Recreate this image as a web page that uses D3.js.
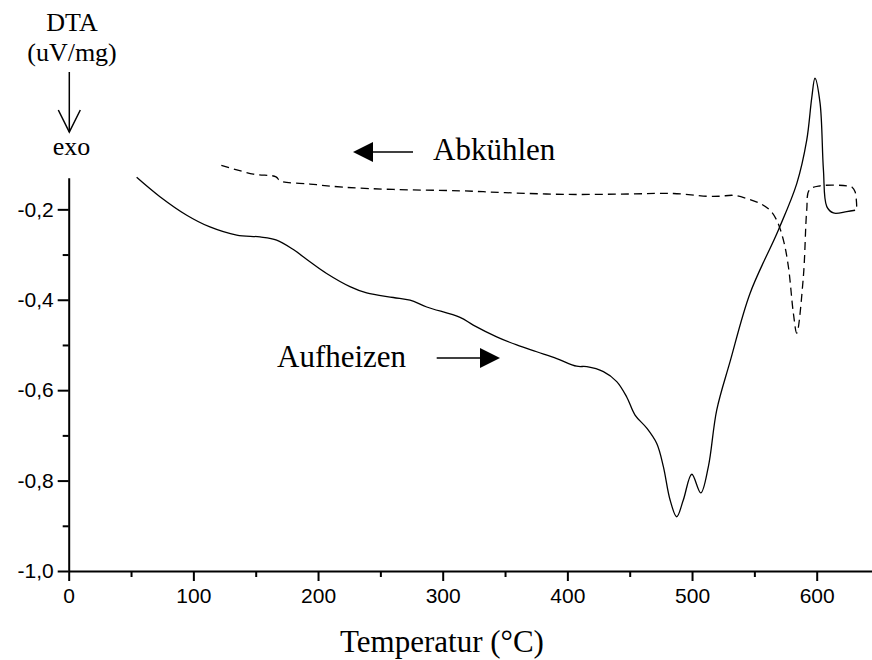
<!DOCTYPE html>
<html>
<head>
<meta charset="utf-8">
<script src="https://cdn.jsdelivr.net/npm/d3@7/dist/d3.min.js"></script>
<style>
  html, body { margin: 0; padding: 0; background: #fff; }
  svg { display: block; }
  .tick text { font-family: "Liberation Sans", Arial, sans-serif; font-size: 21px; fill: #000; }
  .serif { font-family: "Liberation Serif", "Times New Roman", serif; fill: #000; }
</style>
</head>
<body>
<svg id="chart" width="872" height="660"></svg>
<script>
// Heating run (Aufheizen): temperature in °C, DTA signal in uV/mg
const heatT = [54.5, 73.2, 94.7, 113.3, 134.8, 153.4, 166.8, 180.2, 193.5, 206.9, 225.6, 239.0,
  260.4, 273.8, 287.2, 313.9, 324.5, 343.3, 359.4, 375.4, 391.5, 407.5, 415.6, 428.9, 439.6,
  447.6, 454.3, 463.7, 471.7, 477.0, 482.4, 487.7, 493.0, 499.8, 507.0, 513.1, 519.8, 530.5,
  546.5, 569.2, 584.0, 592.0, 596.0, 598.6, 602.7, 605.4, 608.1, 613.4, 624.1, 630.8];
const heatV = [-0.129, -0.172, -0.213, -0.239, -0.257, -0.261, -0.268, -0.289, -0.316, -0.342, -0.371, -0.385,
  -0.395, -0.401, -0.416, -0.439, -0.456, -0.482, -0.500, -0.515, -0.530, -0.547, -0.548, -0.559, -0.581,
  -0.615, -0.655, -0.684, -0.718, -0.769, -0.843, -0.880, -0.843, -0.786, -0.827, -0.769, -0.644, -0.537,
  -0.386, -0.246, -0.143, -0.047, 0.046, 0.090, 0.035, -0.113, -0.194, -0.208, -0.205, -0.202];

// Cooling run (Abkühlen), listed in the order it was recorded (high to low temperature)
const coolT = [632.1, 630.8, 628.4, 624.1, 602.7, 594.1, 592.0, 589.3, 584.0, 581.3, 577.3, 573.3,
  567.9, 562.6, 554.6, 543.9, 533.2, 522.5, 511.8, 485.0, 450.0, 400.0, 350.0, 313.9, 260.4,
  220.3, 193.5, 169.5, 166.3, 148.1, 121.4];
const coolV = [-0.194, -0.161, -0.151, -0.148, -0.148, -0.157, -0.202, -0.349, -0.474, -0.430, -0.327, -0.268,
  -0.224, -0.202, -0.187, -0.176, -0.169, -0.171, -0.171, -0.165, -0.166, -0.167, -0.163, -0.159, -0.156,
  -0.151, -0.144, -0.137, -0.128, -0.122, -0.102];

// Axis ticks
const xMajor = [0, 100, 200, 300, 400, 500, 600];
const xMinor = [50, 150, 250, 350, 450, 550, 650];
const yMajor = [-1.0, -0.8, -0.6, -0.4, -0.2];
const yMinor = [-0.9, -0.7, -0.5, -0.3];

const svg = d3.select("#chart");

const x = d3.scaleLinear().domain([0, 650]).range([68.7, 68.7 + 650 * 1.24667]);
const y = d3.scaleLinear().domain([-1.0, -0.13]).range([571, 177.7]);

const fmt = d => d.toFixed(1).replace(".", ",");

// X axis
svg.append("g").attr("transform", `translate(0,${y(-1.0)})`)
  .call(d3.axisBottom(x).tickValues(xMajor).tickSize(10).tickSizeOuter(0).tickPadding(7).tickFormat(d3.format("d")));
svg.append("g").attr("transform", `translate(0,${y(-1.0)})`)
  .call(d3.axisBottom(x).tickValues(xMinor).tickSize(6).tickSizeOuter(0).tickFormat(""))
  .select(".domain").remove();

// Y axis
svg.append("g").attr("transform", `translate(${x(0)},0)`)
  .call(d3.axisLeft(y).tickValues(yMajor).tickSize(11).tickSizeOuter(0).tickPadding(4).tickFormat(fmt));
svg.append("g").attr("transform", `translate(${x(0)},0)`)
  .call(d3.axisLeft(y).tickValues(yMinor).tickSize(6).tickSizeOuter(0).tickFormat(""))
  .select(".domain").remove();

svg.selectAll(".domain").attr("stroke", "#000").attr("stroke-width", 2);
svg.selectAll(".tick line").attr("stroke", "#000").attr("stroke-width", 2);

// Curves
const line = d3.line()
  .x(d => x(d[0]))
  .y(d => y(d[1]))
  .curve(d3.curveCatmullRom.alpha(0.5));

svg.append("path")
  .datum(heatT.map((t, i) => [t, heatV[i]]))
  .attr("fill", "none")
  .attr("stroke", "#000")
  .attr("stroke-width", 1.3)
  .attr("d", line);

svg.append("path")
  .datum(coolT.map((t, i) => [t, coolV[i]]))
  .attr("fill", "none")
  .attr("stroke", "#000")
  .attr("stroke-width", 1.3)
  .attr("stroke-dasharray", "8,5")
  .attr("d", line);

// Axis titles
svg.append("text").attr("class", "serif").attr("x", 72).attr("y", 31)
  .attr("text-anchor", "middle").attr("font-size", 26).text("DTA");
svg.append("text").attr("class", "serif").attr("x", 72).attr("y", 61)
  .attr("text-anchor", "middle").attr("font-size", 26).text("(uV/mg)");
svg.append("line").attr("x1", 69.3).attr("x2", 69.3).attr("y1", 72).attr("y2", 132)
  .attr("stroke", "#000").attr("stroke-width", 1.5);
svg.append("path").attr("d", "M58.3,110 L69.3,132 L80.3,110")
  .attr("fill", "none").attr("stroke", "#000").attr("stroke-width", 1.5);
svg.append("text").attr("class", "serif").attr("x", 71.5).attr("y", 155)
  .attr("text-anchor", "middle").attr("font-size", 26).text("exo");

svg.append("text").attr("class", "serif").attr("x", 442).attr("y", 652)
  .attr("text-anchor", "middle").attr("font-size", 31).text("Temperatur (°C)");

// Run annotations with direction arrows
svg.append("text").attr("class", "serif").attr("x", 433).attr("y", 160)
  .attr("font-size", 31).text("Abkühlen");
svg.append("line").attr("x1", 370).attr("x2", 413).attr("y1", 152).attr("y2", 152)
  .attr("stroke", "#000").attr("stroke-width", 1.5);
svg.append("path").attr("d", "M353,152 L373,142 L373,162 Z").attr("fill", "#000");

svg.append("text").attr("class", "serif").attr("x", 277).attr("y", 367)
  .attr("font-size", 31).text("Aufheizen");
svg.append("line").attr("x1", 436.7).attr("x2", 482).attr("y1", 358).attr("y2", 358)
  .attr("stroke", "#000").attr("stroke-width", 1.5);
svg.append("path").attr("d", "M500,358 L480,348 L480,368 Z").attr("fill", "#000");
</script>
</body>
</html>
